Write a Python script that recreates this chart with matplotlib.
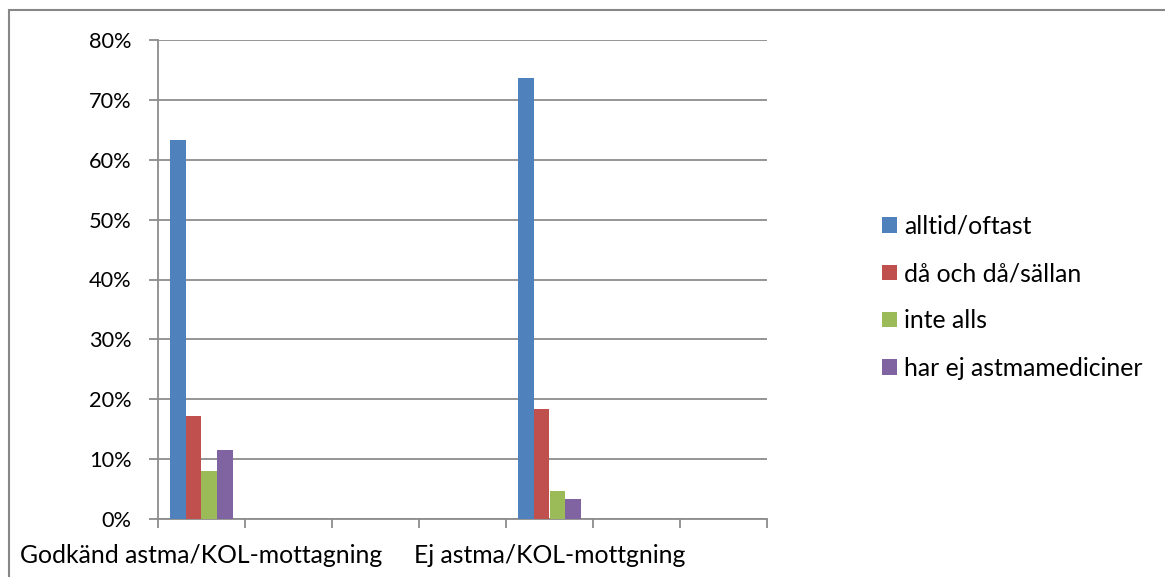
#!/usr/bin/env python3

import numpy as np
import matplotlib
matplotlib.use("Agg")
import matplotlib.pyplot as plt
from matplotlib.patches import Rectangle

# ------------------------------------------------------------------------
# Data (percent)
# ------------------------------------------------------------------------

categories = ["Godkänd astma/KOL-mottagning", "", "", "",
              "Ej astma/KOL-mottgning", "", ""]
series = ["alltid/oftast", "då och då/sällan", "inte alls",
          "har ej astmamediciner"]
alltid_oftast = [63.3, 0, 0, 0, 73.7, 0, 0]
da_och_da = [17.2, 0, 0, 0, 18.4, 0, 0]
inte_alls = [8.0, 0, 0, 0, 4.6, 0, 0]
har_ej = [11.5, 0, 0, 0, 3.3, 0, 0]
yticks = [0, 10, 20, 30, 40, 50, 60, 70, 80]

colors = ["#4F81BD", "#C0504D", "#9BBB59", "#8064A2"]
grid_col = "#8C8C8C"

plt.rcParams["font.family"] = ["Lato", "DejaVu Sans"]

fig = plt.figure(figsize=(11.65, 5.77), dpi=100, facecolor="w")
ax = fig.add_axes([158 / 1165, 1 - 519 / 577, 609 / 1165, 479 / 577])

# chart area frame
fig.patches.append(Rectangle((9 / 1165, -0.05), 1.2, 1 - 10 / 577 + 0.05,
                             transform=fig.transFigure, fill=False,
                             edgecolor="#878787", linewidth=1.5, zorder=0))

x = np.arange(len(categories))
w = 0.182
for i, vals in enumerate([alltid_oftast, da_och_da, inte_alls, har_ej]):
  ax.bar(x + (i - 1.5) * w, vals, width=w, color=colors[i],
         linewidth=0, label=series[i], zorder=3)

ax.set_xlim(-0.5, len(categories) - 0.5)
ax.set_ylim(0, 80)
ax.set_yticks(yticks)
ax.set_yticklabels(["%d%%" % v for v in yticks], fontsize=15.7)
ax.yaxis.grid(True, color=grid_col, linewidth=1.3)
ax.set_axisbelow(True)

ax.set_xticks(x)
ax.set_xticklabels(categories, fontsize=17.8)
ax.set_xticks(np.arange(len(categories) + 1) - 0.5, minor=True)
ax.tick_params(axis="x", which="major", length=0, pad=18)
ax.tick_params(axis="x", which="minor", length=6.5, width=1.3, color=grid_col,
               direction="out")
ax.tick_params(axis="y", length=6.5, width=1.3, color=grid_col, pad=12.5)

for side in ["top", "right"]:
  ax.spines[side].set_visible(False)
for side in ["left", "bottom"]:
  ax.spines[side].set_color(grid_col)
  ax.spines[side].set_linewidth(1.3)

fig.legend(loc="upper left", bbox_to_anchor=(872 / 1165, 1 - 205 / 577),
           frameon=False, fontsize=17.8, handlelength=0.6, handleheight=0.6,
           handletextpad=0.3, labelspacing=0.98, borderaxespad=0)

fig.savefig("out.png", dpi=100, facecolor="w")
